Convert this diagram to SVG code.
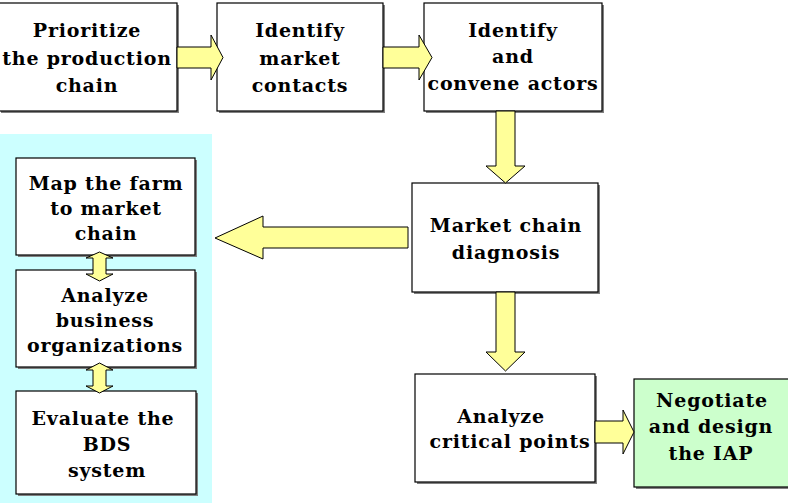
<svg xmlns="http://www.w3.org/2000/svg" width="788" height="503" viewBox="0 0 788 503">
<defs>
<style>
.box{fill:#ffffff;stroke:#000000;stroke-width:1.2}
.sh{fill:#808080}
.green{fill:#ccffcc}
.arr{fill:#ffff99;stroke:#000000;stroke-width:1}
.t{font-family:"DejaVu Serif","Liberation Serif",serif;font-weight:bold;font-size:19px;letter-spacing:0.8px;fill:#000000;text-anchor:middle}
</style>
</defs>
<rect x="0" y="134" width="212" height="369" fill="#ccffff"/>
<g id="n1">
<rect class="sh" x="1" y="5" width="178" height="108"/>
<rect class="box" x="-1" y="3" width="178" height="108"/>
<text class="t" x="87" y="37">Prioritize</text>
<text class="t" x="87" y="65">the production</text>
<text class="t" x="87" y="92">chain</text>
</g>
<g id="n2">
<rect class="sh" x="219" y="5" width="166" height="108"/>
<rect class="box" x="217" y="3" width="166" height="108"/>
<text class="t" x="300" y="37">Identify</text>
<text class="t" x="300" y="65">market</text>
<text class="t" x="300" y="92">contacts</text>
</g>
<g id="n3">
<rect class="sh" x="426" y="5" width="178" height="108"/>
<rect class="box" x="424" y="3" width="178" height="108"/>
<text class="t" x="513" y="37">Identify</text>
<text class="t" x="513" y="63">and</text>
<text class="t" x="513" y="90">convene actors</text>
</g>
<g id="n4">
<rect class="sh" x="414" y="185" width="186" height="109"/>
<rect class="box" x="412" y="183" width="186" height="109"/>
<text class="t" x="506" y="232">Market chain</text>
<text class="t" x="506" y="259">diagnosis</text>
</g>
<g id="n5">
<rect class="sh" x="18" y="160" width="179" height="97"/>
<rect class="box" x="16" y="158" width="179" height="97"/>
<text class="t" x="106" y="190">Map the farm</text>
<text class="t" x="106" y="215">to market</text>
<text class="t" x="106" y="240">chain</text>
</g>
<g id="n6">
<rect class="sh" x="18" y="272" width="179" height="97"/>
<rect class="box" x="16" y="270" width="179" height="97"/>
<text class="t" x="105" y="302">Analyze</text>
<text class="t" x="105" y="327">business</text>
<text class="t" x="105" y="352">organizations</text>
</g>
<g id="n7">
<rect class="sh" x="18" y="393" width="180" height="103"/>
<rect class="box" x="16" y="391" width="180" height="103"/>
<text class="t" x="103" y="425">Evaluate the</text>
<text class="t" x="107" y="451">BDS</text>
<text class="t" x="107" y="477">system</text>
</g>
<g id="n8">
<rect class="sh" x="417" y="376" width="180" height="108"/>
<rect class="box" x="415" y="374" width="180" height="108"/>
<text class="t" x="501" y="423">Analyze</text>
<text class="t" x="510" y="448">critical points</text>
</g>
<g id="n9">
<rect class="sh" x="636" y="381" width="154" height="108"/>
<rect class="box green" x="634" y="379" width="156" height="108"/>
<text class="t" x="712" y="407">Negotiate</text>
<text class="t" x="711" y="433">and design</text>
<text class="t" x="711" y="460">the IAP</text>
</g>
<g id="connectors">
<polygon class="arr" points="177,47 211,47 211,35 223,57.5 211,80 211,68 177,68"/>
<polygon class="arr" points="383,47 419,47 419,35 432,57.5 419,80 419,68 383,68"/>
<polygon class="arr" points="496,111 515,111 515,166 525,166 505.5,183 486,166 496,166"/>
<polygon class="arr" points="408,227 263,227 263,216 215,238 263,259 263,248 408,248"/>
<polygon class="arr" points="496,292 515,292 515,352 525,352 505.5,371 486,352 496,352"/>
<polygon class="arr" points="595,421 623,421 623,410 634,432 623,454 623,443 595,443"/>
<polygon class="arr" points="93,258 86,258 99.5,252 113,258 106,258 106,274 113,274 99.5,281 86,274 93,274"/>
<polygon class="arr" points="93,370 86,370 99.5,363 113,370 106,370 106,386 113,386 99.5,393 86,386 93,386"/>
</g>
</svg>
